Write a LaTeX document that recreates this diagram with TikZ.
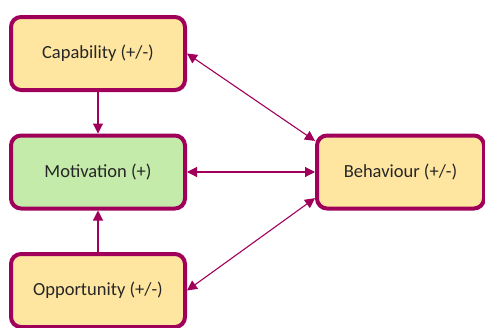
\documentclass[tikz,border=0pt]{standalone}
\usepackage{fontspec}
\setmainfont{Carlito}
\usetikzlibrary{arrows.meta}
\definecolor{rim}{RGB}{160,0,90}
\definecolor{gold}{RGB}{255,230,160}
\definecolor{leaf}{RGB}{196,235,170}
\tikzset{
  factor/.style={draw=rim, line width=4pt, rounded corners=10pt,
    minimum width=174pt, minimum height=73pt, font=\fontsize{18.5}{20}\selectfont,
    text=black!85, inner sep=0pt},
  link/.style={draw=rim, line width=1.1pt, -{Triangle[length=10pt,width=10pt]}},
  duplex/.style={draw=rim, line width=1.1pt, {Triangle[length=10pt,width=10pt]}-{Triangle[length=10pt,width=10pt]}}
}
\begin{document}
\begin{tikzpicture}[x=1pt,y=-1pt]
  \useasboundingbox (0,0) rectangle (485,327);
  \clip (0,0) rectangle (485,327);
  \node[factor, fill=gold] (cap) at (98,53.5) {Capability (+/-)};
  \node[factor, fill=leaf] (mot) at (98,172) {Motivation (+)};
  \node[factor, fill=gold] (opp) at (98,290.5) {Opportunity (+/-)};
  \node[factor, fill=gold, minimum width=167pt] (beh) at (400.5,172) {Behaviour (+/-)};
  \draw[link] (cap.south) -- (mot.north);
  \draw[link] (opp.north) -- (mot.south);
  \draw[duplex] (mot.east) -- (beh.west);
  \draw[duplex] (cap.east) -- (beh.160);
  \draw[duplex] (opp.east) -- (beh.197);
\end{tikzpicture}
\end{document}
